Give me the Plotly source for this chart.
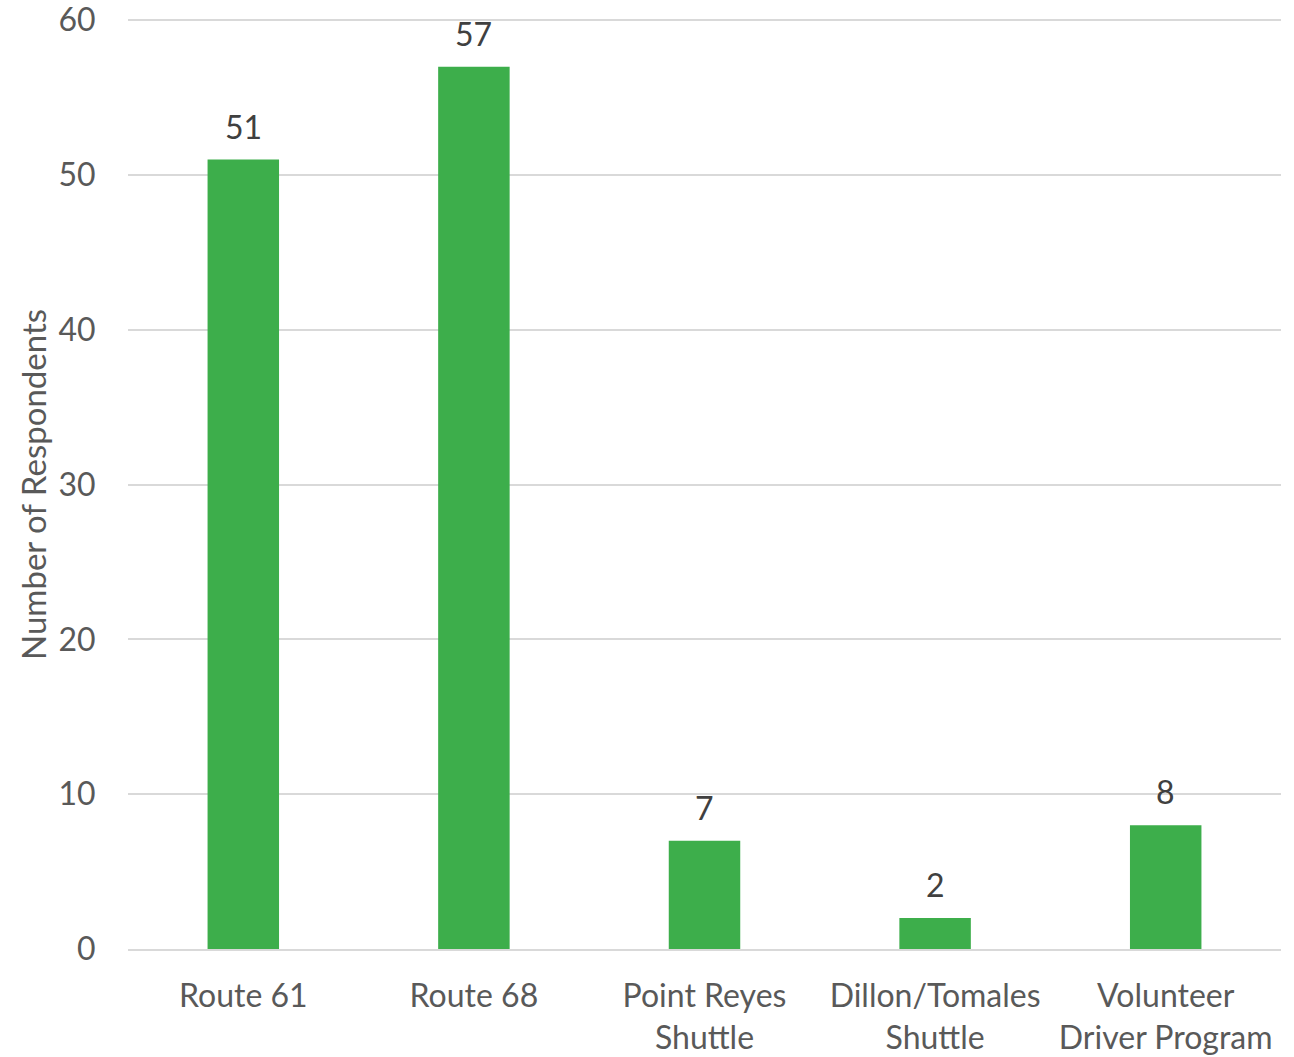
import plotly.graph_objects as go

categories = ["Route 61", "Route 68", "Point Reyes<br>Shuttle", "Dillon/Tomales<br>Shuttle", "Volunteer<br>Driver Program"]
values = [51, 57, 7, 2, 8]
y_ticks = [0, 10, 20, 30, 40, 50, 60]

FONT = "Lato, 'Source Sans Pro', 'Noto Sans', sans-serif"
FS = 32

fig = go.Figure(go.Bar(
    x=categories, y=values,
    marker=dict(color="#3dae4b", line=dict(width=0)),
    cliponaxis=False,
))

for c, v in zip(categories, values):
    fig.add_annotation(x=c, y=v, text=str(v), showarrow=False, yanchor="bottom",
                       yshift=12, font=dict(family=FONT, size=FS, color="#404040"))

fig.update_layout(
    width=1294, height=1057,
    margin=dict(l=128, r=13, t=19, b=108, autoexpand=False),
    paper_bgcolor="white", plot_bgcolor="white",
    bargap=0.69,
    showlegend=False,
    font=dict(family=FONT, size=FS, color="#595959"),
    xaxis=dict(showgrid=False, showline=True, linecolor="#d9d9d9", linewidth=2,
               tickfont=dict(family=FONT, size=FS, color="#595959"),
               ticklabeloverflow="allow",
               ticks="outside", ticklen=18, tickcolor="rgba(0,0,0,0)"),
    yaxis=dict(range=[0, 60.08], tickvals=y_ticks, showgrid=True, gridcolor="#d9d9d9", gridwidth=1.5,
               zeroline=False, showline=False,
               tickfont=dict(family=FONT, size=FS, color="#595959"),
               ticklabeloverflow="allow",
               ticks="outside", ticklen=25, tickcolor="rgba(0,0,0,0)"),
)
fig.add_annotation(text="Number of Respondents", x=(33 - 128) / 1153, y=(949 - 485) / 930,
                   xref="paper", yref="paper", xanchor="center", yanchor="middle",
                   showarrow=False, textangle=-90,
                   font=dict(family=FONT, size=33, color="#595959"))

fig.write_html("out.html")
